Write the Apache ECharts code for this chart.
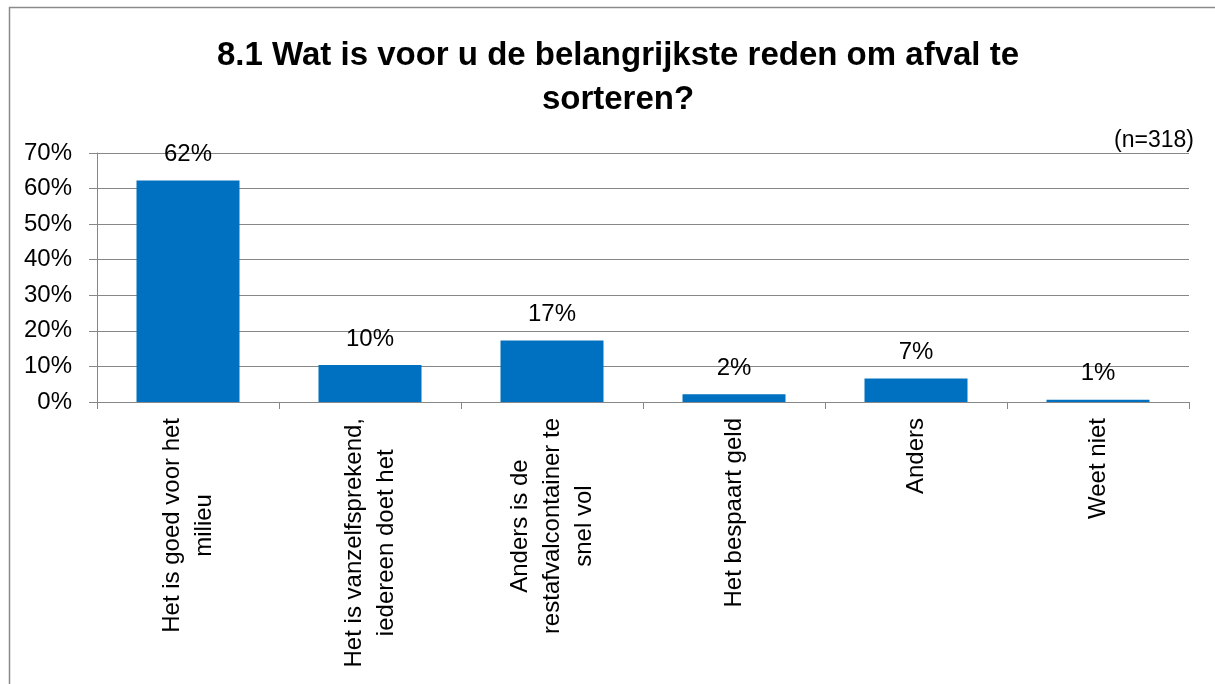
<!DOCTYPE html>
<html>
<head>
<meta charset="utf-8">
<title>8.1 Wat is voor u de belangrijkste reden om afval te sorteren?</title>
<script src="https://cdn.jsdelivr.net/npm/echarts@6/dist/echarts.min.js"></script>
<style>
    html, body { margin: 0; padding: 0; background: #ffffff; }
    #chart { width: 1215px; height: 684px; }
</style>
</head>
<body>
<div id="chart"></div>
<script>
// categorieën (met regelafbreking zoals in het origineel)
var categories = [
    'Het is goed voor het\nmilieu',
    'Het is vanzelfsprekend,\niedereen doet het',
    'Anders is de\nrestafvalcontainer te\nsnel vol',
    'Het bespaart geld',
    'Anders',
    'Weet niet'
];
// percentages
var values = [62.3, 10.4, 17.3, 2.2, 6.6, 0.6];
// y-as
var yMin = 0;
var yMax = 70;
var yStep = 10;

var titleText = '8.1 Wat is voor u de belangrijkste reden om afval te\nsorteren?';
var noteText = '(n=318)';

var fontName = '"Liberation Sans", Arial, sans-serif';
var gridColor = '#878787';

var myChart = echarts.init(document.getElementById('chart'));

var option = {
    backgroundColor: '#ffffff',
    animation: false,
    title: [
        {
            text: titleText,
            left: 613,
            top: 29,
            textAlign: 'center',
            textStyle: {
                fontFamily: fontName,
                fontSize: 33,
                fontWeight: 'bold',
                color: '#000000',
                lineHeight: 44
            }
        },
        {
            text: noteText,
            right: 16,
            top: 124,
            textStyle: {
                fontFamily: fontName,
                fontSize: 23,
                fontWeight: 'normal',
                color: '#000000'
            }
        }
    ],
    // kader rond de grafiek
    graphic: [
        {
            type: 'rect',
            silent: true,
            shape: { x: 9.5, y: 7.5, width: 1400, height: 1000 },
            style: { fill: 'none', stroke: '#8a8a8a', lineWidth: 1.5 }
        }
    ],
    grid: {
        left: 97,
        right: 26,
        top: 153,
        bottom: 282
    },
    xAxis: {
        type: 'category',
        data: categories,
        axisLine: { show: true, lineStyle: { color: gridColor, width: 1 } },
        axisTick: { show: true, length: 7, lineStyle: { color: gridColor } },
        axisLabel: {
            rotate: 90,
            margin: 16,
            interval: 0,
            fontFamily: fontName,
            fontSize: 24,
            color: '#000000',
            formatter: function (v) {
                return v.split('\n').map(function (s) { return '{c|' + s + '}'; }).join('\n');
            },
            rich: {
                c: {
                    align: 'center',
                    fontFamily: fontName,
                    fontSize: 24,
                    lineHeight: 32,
                    color: '#000000'
                }
            }
        }
    },
    yAxis: {
        type: 'value',
        min: yMin,
        max: yMax,
        interval: yStep,
        axisLine: { show: true, lineStyle: { color: gridColor, width: 1 } },
        axisTick: { show: true, length: 8, lineStyle: { color: gridColor } },
        splitLine: { show: true, lineStyle: { color: gridColor, width: 1 } },
        axisLabel: {
            margin: 25,
            fontFamily: fontName,
            fontSize: 24,
            color: '#000000',
            formatter: '{value}%'
        }
    },
    series: [
        {
            type: 'bar',
            data: values,
            barWidth: 103,
            itemStyle: { color: '#0070c0' },
            label: {
                show: true,
                position: 'top',
                distance: 14,
                fontFamily: fontName,
                fontSize: 24,
                color: '#000000',
                formatter: function (p) { return Math.round(p.value) + '%'; }
            }
        }
    ]
};

myChart.setOption(option);
</script>
</body>
</html>
